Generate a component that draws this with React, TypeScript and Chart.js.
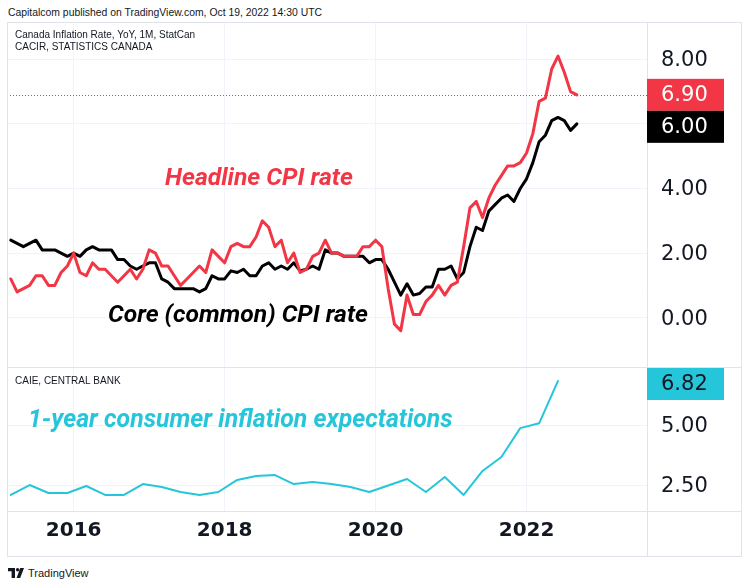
import React, { useEffect, useRef } from 'react';
import { Chart, registerables } from 'chart.js';

Chart.register(...registerables);

// x values are months counted from Jan 2015 (= 0)
const MONTHLY_START = 2; // Mar 2015
const HEADLINE_CPI = [
  1.2, 0.8, 0.9, 1.0, 1.3, 1.3, 1.0, 1.0, 1.4, 1.6,
  2.0, 1.4, 1.3, 1.7, 1.5, 1.5, 1.3, 1.1, 1.3, 1.5, 1.2, 1.5,
  2.1, 2.0, 1.6, 1.6, 1.3, 1.0, 1.2, 1.4, 1.6, 1.4, 2.1, 1.9,
  1.7, 2.2, 2.3, 2.2, 2.2, 2.5, 3.0, 2.8, 2.2, 2.4, 1.7, 2.0,
  1.4, 1.5, 1.9, 2.0, 2.4, 2.0, 2.0, 1.9, 1.9, 1.9, 2.2, 2.2,
  2.4, 2.2, 0.9, -0.2, -0.4, 0.7, 0.1, 0.1, 0.5, 0.7, 1.0, 0.7,
  1.0, 1.1, 2.2, 3.4, 3.6, 3.1, 3.7, 4.1, 4.4, 4.7, 4.7, 4.8,
  5.1, 5.7, 6.7, 6.8, 7.7, 8.1, 7.6, 7.0, 6.9,
];
const CORE_CPI = [
  2.4, 2.3, 2.2, 2.3, 2.4, 2.1, 2.1, 2.1, 2.0, 1.9,
  2.0, 1.9, 2.1, 2.2, 2.1, 2.1, 2.1, 1.8, 1.8, 1.6, 1.5, 1.6,
  1.7, 1.7, 1.2, 1.1, 0.9, 0.9, 0.9, 0.9, 0.8, 0.9, 1.3, 1.2,
  1.2, 1.45, 1.4, 1.5, 1.3, 1.3, 1.6, 1.7, 1.5, 1.6, 1.5, 1.7,
  1.45, 1.5, 1.6, 1.5, 2.1, 2.0, 2.0, 1.9, 1.9, 1.9, 1.9, 1.7,
  1.8, 1.8, 1.5, 1.1, 0.7, 1.05, 0.7, 0.75, 0.95, 0.95, 1.5, 1.5,
  1.6, 1.2, 1.4, 2.2, 2.8, 2.7, 3.3, 3.5, 3.7, 3.8, 3.6, 4.0,
  4.3, 4.8, 5.45, 5.65, 6.1, 6.2, 6.1, 5.8, 6.0,
];
const EXPECT_START = 2; // Mar 2015, quarterly
const EXPECT_STEP = 3;
const EXPECTATIONS = [
  2.11, 2.52, 2.19, 2.19, 2.48, 2.11, 2.11, 2.56, 2.44, 2.23,
  2.11, 2.23, 2.73, 2.89, 2.93, 2.56, 2.64, 2.56, 2.44, 2.23,
  2.5, 2.77, 2.23, 2.85, 2.11, 3.1, 3.68, 4.87, 5.07, 6.82,
];
const X_TICK_VALUES = [12, 36, 60, 84];
const X_TICK_LABELS = ['2016', '2018', '2020', '2022'];
const TOP_TICKS = [0, 2, 4, 6, 8];
const BOTTOM_TICKS = [2.5, 5];

const RED = '#f23645';
const BLACK = '#000000';
const CYAN = '#26c6da';
const TEXT = '#131722';
const GRID = '#f0f3fa';
const FRAME = '#e0e3eb';

const X_MIN = 1.4;
const X_MAX = 103.15;
const TOP_MIN = -1.526;
const TOP_MAX = 9.155;
const BOT_MIN = 1.446;
const BOT_MAX = 7.397;

const AXIS_FONT = '"DejaVu Sans", sans-serif';
const NOTE_FAMILY = 'Roboto, "Liberation Sans", sans-serif';
const SMALL_FAMILY = '"Liberation Sans", Arial, sans-serif';

const monthly = (arr: number[]) => arr.map((v, i) => ({ x: MONTHLY_START + i, y: v }));
const quarterly = (arr: number[]) => arr.map((v, i) => ({ x: EXPECT_START + i * EXPECT_STEP, y: v }));
const last = (arr: number[]) => arr[arr.length - 1];

function fitText(ctx: CanvasRenderingContext2D, text: string, style: string, targetW: number, left: number, capCenter: number, color: string) {
  ctx.font = `${style} 100px ${NOTE_FAMILY}`;
  const w = ctx.measureText(text).width;
  const size = (100 * targetW) / w;
  ctx.font = `${style} ${size}px ${NOTE_FAMILY}`;
  ctx.fillStyle = color;
  ctx.textAlign = 'left';
  ctx.textBaseline = 'alphabetic';
  ctx.fillText(text, left, capCenter + size * 0.355);
}

function smallText(ctx: CanvasRenderingContext2D, text: string, left: number, capCenter: number) {
  const size = 10;
  ctx.font = `${size}px ${SMALL_FAMILY}`;
  ctx.fillStyle = TEXT;
  ctx.textAlign = 'left';
  ctx.textBaseline = 'alphabetic';
  ctx.fillText(text, left, capCenter + size * 0.358);
}

const BOX_W = 77;
const BOX_H = 32;
function valueBox(ctx: CanvasRenderingContext2D, left: number, top: number, text: string, bg: string, fg: string) {
  ctx.fillStyle = bg;
  ctx.fillRect(left, top, BOX_W, BOX_H);
  ctx.font = `21px ${AXIS_FONT}`;
  ctx.fillStyle = fg;
  ctx.textAlign = 'left';
  ctx.textBaseline = 'middle';
  ctx.fillText(text, left + 14, top + BOX_H / 2 + 1);
}

const overlayPlugin = {
  id: 'overlay',
  beforeDatasetsDraw(chart: any) {
    const { ctx, chartArea } = chart;
    const y = Math.round(chart.scales.yTop.getPixelForValue(last(HEADLINE_CPI))) + 0.5;
    ctx.save();
    ctx.strokeStyle = RED;
    ctx.lineWidth = 1;
    ctx.setLineDash([1, 2]);
    ctx.beginPath();
    ctx.moveTo(chartArea.left, y);
    ctx.lineTo(chartArea.right, y);
    ctx.stroke();
    ctx.restore();
  },
  afterDraw(chart: any) {
    const { ctx, chartArea, width, height } = chart;
    const yTop = chart.scales.yTop;
    const yBot = chart.scales.yBot;
    ctx.save();
    ctx.strokeStyle = FRAME;
    ctx.lineWidth = 1;
    ctx.setLineDash([]);
    ctx.strokeRect(0.5, 0.5, width - 1, height - 1);
    const hLine = (y: number) => {
      ctx.beginPath();
      ctx.moveTo(0, Math.round(y) + 0.5);
      ctx.lineTo(width, Math.round(y) + 0.5);
      ctx.stroke();
    };
    hLine(yTop.bottom);
    hLine(chartArea.bottom);
    ctx.beginPath();
    ctx.moveTo(Math.round(chartArea.right) + 0.5, 0);
    ctx.lineTo(Math.round(chartArea.right) + 0.5, height);
    ctx.stroke();

    // last-value boxes
    const bx = chartArea.right;
    const redTop = yTop.getPixelForValue(last(HEADLINE_CPI)) - BOX_H / 2;
    valueBox(ctx, bx, redTop, last(HEADLINE_CPI).toFixed(2), RED, '#ffffff');
    const blackTop = Math.max(yTop.getPixelForValue(last(CORE_CPI)) - BOX_H / 2, redTop + BOX_H);
    valueBox(ctx, bx, blackTop, last(CORE_CPI).toFixed(2), BLACK, '#ffffff');
    const cyanTop = Math.max(yBot.getPixelForValue(last(EXPECTATIONS)) - BOX_H / 2, yBot.top + 1);
    valueBox(ctx, bx, cyanTop, last(EXPECTATIONS).toFixed(2), CYAN, TEXT);

    // legends
    smallText(ctx, 'Canada Inflation Rate, YoY, 1M, StatCan', 8, 12.7);
    smallText(ctx, 'CACIR, STATISTICS CANADA', 8, 24.7);
    smallText(ctx, 'CAIE, CENTRAL BANK', 8, yBot.top + 13.5);

    // annotations
    fitText(ctx, 'Headline CPI rate', 'italic 700', 188, 158, 154, RED);
    fitText(ctx, 'Core (common) CPI rate', 'italic 700', 260, 101, 291, BLACK);
    fitText(ctx, '1-year consumer inflation expectations', 'italic 700', 425, 21, 396, CYAN);
    ctx.restore();
  },
};

export default function App() {
  const canvasRef = useRef<HTMLCanvasElement | null>(null);

  useEffect(() => {
    if (!canvasRef.current) return;
    const chart = new Chart(canvasRef.current, {
      type: 'line',
      data: {
        datasets: [
          {
            label: 'Headline CPI',
            data: monthly(HEADLINE_CPI),
            yAxisID: 'yTop',
            borderColor: RED,
            borderWidth: 3,
            pointRadius: 0,
            tension: 0,
            borderJoinStyle: 'round',
            borderCapStyle: 'round',
          },
          {
            label: 'Core CPI',
            data: monthly(CORE_CPI),
            yAxisID: 'yTop',
            borderColor: BLACK,
            borderWidth: 3,
            pointRadius: 0,
            tension: 0,
            borderJoinStyle: 'round',
            borderCapStyle: 'round',
          },
          {
            label: 'Expectations',
            data: quarterly(EXPECTATIONS),
            yAxisID: 'yBot',
            borderColor: CYAN,
            borderWidth: 2,
            pointRadius: 0,
            tension: 0,
            borderJoinStyle: 'round',
            borderCapStyle: 'round',
          },
        ],
      },
      options: {
        responsive: false,
        animation: false,
        events: [],
        layout: { padding: 0 },
        plugins: { legend: { display: false }, tooltip: { enabled: false }, title: { display: false } },
        scales: {
          x: {
            type: 'linear',
            position: 'bottom',
            min: X_MIN,
            max: X_MAX,
            afterBuildTicks: (s: any) => {
              s.ticks = X_TICK_VALUES.map((v) => ({ value: v }));
            },
            afterFit: (s: any) => {
              s.height = 46;
              s.paddingLeft = 0;
              s.paddingRight = 0;
            },
            grid: { color: GRID, drawTicks: false },
            border: { display: false },
            ticks: {
              autoSkip: false,
              maxRotation: 0,
              minRotation: 0,
              padding: 8,
              color: TEXT,
              font: { family: AXIS_FONT, size: 20, weight: 'bold' },
              callback: (v: any) => {
                const i = X_TICK_VALUES.indexOf(Number(v));
                return i >= 0 ? X_TICK_LABELS[i] : '';
              },
            },
          },
          yTop: {
            type: 'linear',
            position: 'right',
            stack: 'price',
            stackWeight: 345,
            min: TOP_MIN,
            max: TOP_MAX,
            afterBuildTicks: (s: any) => {
              s.ticks = TOP_TICKS.map((v) => ({ value: v }));
            },
            afterFit: (s: any) => {
              s.width = 95;
              s.paddingTop = 0;
              s.paddingBottom = 0;
            },
            grid: { color: GRID, drawTicks: false },
            border: { display: false },
            ticks: {
              padding: 14,
              labelOffset: 1.5,
              color: TEXT,
              font: { family: AXIS_FONT, size: 21 },
              callback: (v: any) => Number(v).toFixed(2),
            },
          },
          yBot: {
            type: 'linear',
            position: 'right',
            stack: 'price',
            stackWeight: 144,
            min: BOT_MIN,
            max: BOT_MAX,
            afterBuildTicks: (s: any) => {
              s.ticks = BOTTOM_TICKS.map((v) => ({ value: v }));
            },
            afterFit: (s: any) => {
              s.width = 95;
              s.paddingTop = 0;
              s.paddingBottom = 0;
            },
            grid: { color: GRID, drawTicks: false },
            border: { display: false },
            ticks: {
              padding: 14,
              labelOffset: 1.5,
              color: TEXT,
              font: { family: AXIS_FONT, size: 21 },
              callback: (v: any) => Number(v).toFixed(2),
            },
          },
        },
      },
      plugins: [overlayPlugin],
    } as any);
    return () => chart.destroy();
  }, []);

  return (
    <div style={{ position: 'absolute', left: 0, top: 0, width: 750, height: 587, background: '#ffffff', overflow: 'hidden' }}>
      <div
        style={{
          position: 'absolute',
          left: 8,
          top: 5,
          fontFamily: SMALL_FAMILY,
          fontSize: 10.4,
          lineHeight: '16px',
          color: TEXT,
          whiteSpace: 'nowrap',
        }}
      >
        Capitalcom published on TradingView.com, Oct 19, 2022 14:30 UTC
      </div>
      <canvas
        ref={canvasRef}
        width={735}
        height={535}
        style={{ position: 'absolute', left: 7, top: 22, width: 735, height: 535 }}
      />
      <svg style={{ position: 'absolute', left: 8, top: 568 }} width={16} height={10} viewBox="0 0 16 10">
        <path d="M0 0 H7 V10 H3.6 V3.2 H0 Z" fill={TEXT} />
        <circle cx={9.6} cy={1.7} r={1.7} fill={TEXT} />
        <path d="M12.2 0 H16 L12.2 10 H8.6 Z" fill={TEXT} />
      </svg>
      <div
        style={{
          position: 'absolute',
          left: 28,
          top: 565,
          fontFamily: SMALL_FAMILY,
          fontSize: 11,
          lineHeight: '16px',
          color: TEXT,
          whiteSpace: 'nowrap',
        }}
      >
        TradingView
      </div>
    </div>
  );
}
